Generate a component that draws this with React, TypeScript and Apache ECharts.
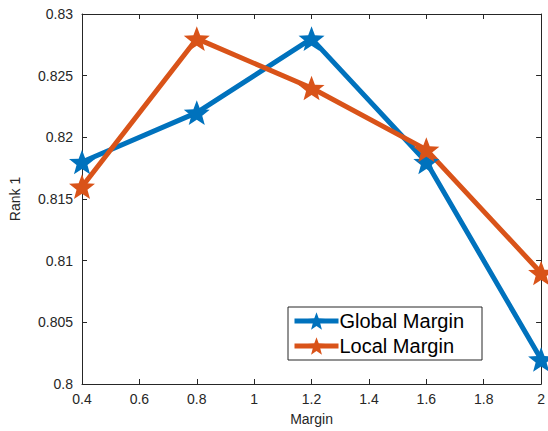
import React, { useEffect, useRef } from "react";
import * as echarts from "echarts";

const margins = [0.4, 0.8, 1.2, 1.6, 2.0];
const globalMargin = [0.818, 0.822, 0.828, 0.818, 0.802];
const localMargin = [0.816, 0.828, 0.824, 0.819, 0.809];
const seriesNames = ["Global Margin", "Local Margin"];

const BLUE = "#0072BD";
const ORANGE = "#D95319";
const AXIS = "#262626";
const FONT = "'Liberation Sans', Arial, Helvetica, sans-serif";

// five-pointed star (pentagram) marker as an SVG path
function starPath(): string {
  const pts: string[] = [];
  for (let i = 0; i < 10; i++) {
    const r = i % 2 === 0 ? 50 : 21;
    const a = -Math.PI / 2 + (i * Math.PI) / 5;
    pts.push(`${(50 + r * Math.cos(a)).toFixed(2)} ${(50 + r * Math.sin(a)).toFixed(2)}`);
  }
  return "path://M" + pts.join(" L") + " Z";
}

export default function App() {
  const ref = useRef<HTMLDivElement>(null);

  useEffect(() => {
    if (!ref.current) return;
    const chart = echarts.init(ref.current, undefined, { renderer: "svg" });
    const star = starPath();
    const mk = (name: string, ys: number[], color: string) => ({
      name,
      type: "line",
      data: margins.map((x, i) => [x, ys[i]]),
      lineStyle: { color, width: 5 },
      itemStyle: { color },
      symbol: star,
      symbolSize: 26,
      symbolKeepAspect: true,
      showSymbol: true,
      emphasis: { disabled: true },
    });
    const tickStyle = { inside: true, length: 5, lineStyle: { color: AXIS, width: 1 } };
    chart.setOption({
      animation: false,
      backgroundColor: "#ffffff",
      grid: { left: 77, right: 2, top: 14, bottom: 47 },
      legend: {
        orient: "vertical",
        left: 288,
        top: 307,
        data: seriesNames.map((n, i) => ({
          name: n,
          lineStyle: { color: i === 0 ? BLUE : ORANGE, width: 5 },
          itemStyle: { color: i === 0 ? BLUE : ORANGE },
        })),
        backgroundColor: "#ffffff",
        borderColor: AXIS,
        borderWidth: 1,
        borderRadius: 0,
        padding: [4, 18, 4, 4],
        itemGap: 5,
        itemWidth: 44,
        itemHeight: 22,
        textStyle: { fontFamily: FONT, fontSize: 20, color: "#000", padding: [0, 0, 0, -4] },
      },
      xAxis: [
        {
          type: "value",
          min: 0.4,
          max: 2,
          interval: 0.2,
          name: "Margin",
          nameLocation: "middle",
          nameGap: 28,
          nameTextStyle: { fontFamily: FONT, fontSize: 14, color: AXIS },
          axisLine: { show: true, lineStyle: { color: AXIS, width: 1 } },
          axisTick: tickStyle,
          axisLabel: { fontFamily: FONT, fontSize: 14, color: AXIS, margin: 8 },
          splitLine: { show: false },
        },
        {
          type: "value",
          position: "top",
          min: 0.4,
          max: 2,
          interval: 0.2,
          axisLine: { show: true, lineStyle: { color: AXIS, width: 1 } },
          axisTick: tickStyle,
          axisLabel: { show: false },
          splitLine: { show: false },
        },
      ],
      yAxis: [
        {
          type: "value",
          min: 0.8,
          max: 0.83,
          interval: 0.005,
          name: "Rank 1",
          nameLocation: "middle",
          nameGap: 60,
          nameTextStyle: { fontFamily: FONT, fontSize: 14, color: AXIS },
          axisLine: { show: true, lineStyle: { color: AXIS, width: 1 } },
          axisTick: tickStyle,
          axisLabel: { fontFamily: FONT, fontSize: 14, color: AXIS, margin: 9 },
          splitLine: { show: false },
        },
        {
          type: "value",
          position: "right",
          min: 0.8,
          max: 0.83,
          interval: 0.005,
          axisLine: { show: true, lineStyle: { color: AXIS, width: 1 } },
          axisTick: tickStyle,
          axisLabel: { show: false },
          splitLine: { show: false },
        },
      ],
      series: [
        mk(seriesNames[0], globalMargin, BLUE),
        mk(seriesNames[1], localMargin, ORANGE),
      ],
    });
    return () => chart.dispose();
  }, []);

  return (
    <div
      ref={ref}
      style={{ position: "fixed", left: 0, top: 0, width: 548, height: 431 }}
    />
  );
}
